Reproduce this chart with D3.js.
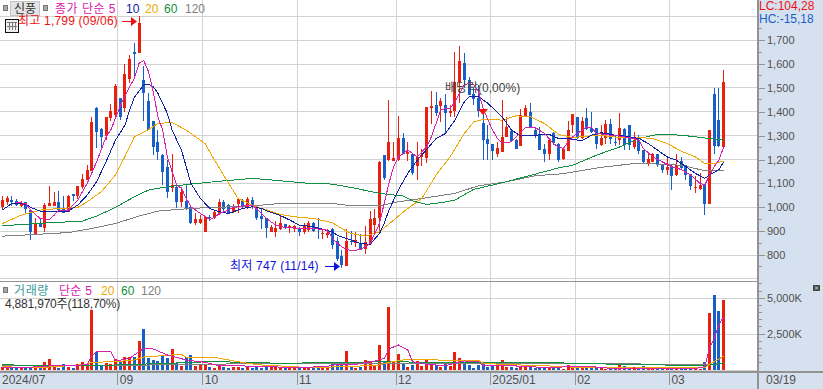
<!DOCTYPE html>
<html>
<head>
<meta charset="utf-8">
<script src="https://cdn.jsdelivr.net/npm/d3@7"></script>
<style>
  html, body { margin: 0; padding: 0; background: #fff; overflow: hidden; }
  text { font-family: "Liberation Sans", "Noto Sans CJK KR", sans-serif; font-size: 12px; }
</style>
</head>
<body>
<svg id="chart" width="823" height="389"></svg>
<script>
// candles
const open = [999,1023,1030,1028,1006,1020,988,887,932,915,1006,1006,1021,992,981,1055,1047,1083,1114,1153,
  1417,1326,1298,1373,1386,1456,1414,1538,1651,1647,1533,1443,1362,1274,1218,1167,1079,1086,1020,1026,
  999,932,936,897,960,956,974,1021,1010,981,1013,1027,999,1030,1005,963,953,897,897,907,
  929,911,909,911,897,904,936,915,887,883,907,859,795,753,859,851,848,826,848,925,
  956,1217,1197,1195,1197,1291,1225,1225,1172,1211,1207,1417,1428,1424,1428,1393,1403,1526,1603,1533,
  1474,1456,1351,1286,1267,1223,1232,1293,1319,1281,1256,1382,1400,1323,1305,1246,1223,1313,1263,1202,
  1237,1346,1376,1292,1374,1332,1330,1260,1292,1347,1274,1281,1327,1343,1251,1281,1239,1183,1190,1225,
  1183,1155,1170,1133,1195,1176,1139,1079,1076,1093,1013,1474,1365,1253];
const close = [1030,1038,1024,1010,1017,993,897,932,917,1009,1017,1021,988,978,1047,1048,1089,1118,1156,1358,
  1316,1295,1376,1403,1508,1376,1558,1620,1642,1770,1480,1323,1253,1232,1149,1065,1095,1020,1065,992,
  932,950,950,960,956,981,1021,991,978,1002,1033,999,1034,999,957,950,911,918,915,932,
  911,921,921,898,921,932,900,907,893,893,841,785,757,858,857,862,827,856,949,957,
  1189,1121,1273,1206,1290,1225,1232,1142,1211,1218,1418,1424,1393,1445,1393,1403,1526,1613,1533,1470,
  1452,1403,1281,1265,1237,1248,1293,1337,1277,1246,1386,1414,1337,1298,1239,1221,1281,1270,1197,1242,
  1323,1390,1292,1361,1327,1316,1263,1288,1347,1284,1272,1330,1260,1260,1281,1237,1190,1202,1225,1179,
  1158,1167,1130,1176,1163,1137,1088,1084,1093,1013,1323,1258,1258,1525];
const high = [1047,1047,1047,1033,1027,1024,994,953,957,1016,1089,1063,1068,1047,1051,1055,1089,1139,1177,1376,
  1420,1330,1376,1431,1516,1456,1598,1638,1686,1799,1591,1480,1362,1323,1225,1198,1225,1093,1086,1095,
  1009,974,967,960,967,988,1033,1030,1013,1013,1033,1033,1044,1044,1009,995,953,925,943,967,
  929,925,925,918,935,943,939,953,908,908,911,876,820,907,900,897,890,922,983,992,
  1193,1218,1449,1272,1382,1313,1274,1225,1274,1246,1418,1486,1481,1456,1476,1428,1652,1675,1647,1547,
  1505,1512,1400,1344,1267,1272,1449,1380,1319,1285,1410,1428,1436,1330,1335,1265,1285,1316,1270,1245,
  1362,1390,1376,1379,1414,1397,1330,1344,1365,1369,1302,1393,1330,1343,1316,1302,1239,1232,1229,1225,
  1183,1214,1183,1225,1209,1176,1139,1130,1142,1093,1323,1498,1498,1575];
const low = [988,1009,1005,1007,1002,977,862,887,917,897,1006,1006,988,978,981,1026,1033,1075,1114,1153,
  1249,1249,1281,1360,1370,1365,1400,1519,1544,1647,1362,1323,1218,1200,1093,1037,1065,995,999,988,
  929,925,929,897,942,950,967,977,974,977,977,995,992,992,946,908,872,897,876,906,
  907,893,896,879,890,898,897,869,869,873,827,775,747,753,841,834,823,806,848,890,
  890,1114,1195,1195,1195,1223,1195,1135,1114,1172,1184,1348,1383,1359,1310,1380,1380,1435,1505,1470,
  1428,1380,1197,1197,1197,1210,1232,1293,1272,1243,1256,1382,1337,1290,1239,1190,1197,1260,1190,1200,
  1237,1309,1285,1285,1322,1310,1246,1258,1263,1267,1256,1260,1239,1239,1246,1225,1183,1174,1188,1170,
  1144,1135,1074,1130,1158,1116,1074,1060,1072,967,1013,1223,1253,1250];
// volume in thousands
const volume = [186,116,163,163,116,233,186,163,163,535,768,233,140,395,233,163,395,535,395,4187,
  1279,279,465,419,768,535,930,930,930,2024,2861,814,698,628,1047,814,1465,465,279,930,
  1047,302,349,395,233,163,419,233,140,233,233,163,233,163,256,163,256,256,302,
  116,163,140,279,163,140,140,140,279,186,163,395,488,395,1326,209,140,209,698,628,
  302,1745,628,4396,535,1116,442,209,349,628,302,698,442,349,209,395,256,1256,837,442,
  349,140,372,442,209,349,326,698,209,209,116,302,186,186,116,163,140,186,163,140,
  93,349,163,163,163,256,116,140,140,93,116,116,349,279,163,140,116,279,140,140,
  116,140,93,209,163,116,116,163,93,93,558,3977,5233,4117,4882];

// moving averages: [candle index, value] read at visible points
const ma5 = [[3,1020],[5,1016],[6,988],[8,953],[10,949],[11,967],[12,988],[14,988],[16,1030],[18,1100],[20,1190],[22,1295],[23,1323],[25,1424],[27,1505],[28,1540],[29,1603],[30,1614],[31,1568],[32,1484],[33,1379],[34,1323],[35,1212],[36,1149],[37,1093],[38,1079],[39,1037],[40,1002],[42,974],[44,949],[45,957],[46,974],[47,981],[49,999],[51,1005],[53,1009],[55,974],[56,953],[58,925],[60,915],[63,912],[66,911],[69,904],[70,869],[72,834],[74,817],[76,823],[78,848],[80,932],[81,1016],[82,1100],[83,1170],[84,1211],[86,1239],[88,1211],[90,1253],[91,1295],[92,1351],[93,1407],[94,1414],[95,1414],[96,1442],[97,1477],[98,1512],[99,1519],[100,1512],[101,1484],[102,1414],[103,1365],[104,1323],[105,1288],[106,1270],[108,1274],[110,1316],[111,1334],[113,1334],[115,1309],[117,1265],[118,1253],[119,1246],[120,1274],[121,1295],[123,1323],[124,1337],[125,1334],[126,1309],[129,1302],[131,1298],[134,1288],[135,1281],[136,1246],[138,1211],[140,1190],[142,1170],[144,1158],[146,1135],[148,1100],[149,1093],[150,1134],[151,1170],[152,1197],[153,1253]];
const ma10 = [[0,988],[2,1016],[5,1013],[6,999],[8,984],[11,981],[14,984],[16,1009],[18,1051],[20,1107],[22,1191],[24,1281],[25,1312],[26,1344],[27,1407],[28,1460],[30,1512],[31,1516],[32,1505],[33,1477],[35,1393],[36,1323],[38,1239],[40,1100],[42,1037],[44,995],[46,981],[48,974],[51,995],[53,1002],[55,995],[56,985],[59,965],[61,946],[63,925],[66,918],[70,897],[71,883],[73,869],[76,848],[78,845],[80,890],[81,932],[82,988],[84,1072],[86,1142],[88,1197],[90,1242],[92,1288],[94,1309],[96,1365],[98,1442],[99,1463],[101,1463],[103,1435],[106,1379],[108,1323],[110,1298],[113,1302],[116,1305],[118,1288],[120,1288],[121,1284],[123,1279],[125,1302],[127,1312],[130,1302],[132,1298],[135,1288],[137,1267],[139,1239],[141,1211],[143,1197],[145,1170],[147,1142],[149,1121],[150,1135],[152,1158],[153,1190]];
const ma20 = [[0,932],[4,967],[8,988],[12,995],[16,999],[18,1023],[21,1065],[24,1135],[26,1212],[28,1295],[31,1325],[33,1351],[36,1355],[39,1323],[43,1267],[45,1198],[48,1100],[50,1037],[53,1009],[55,995],[59,970],[62,960],[66,953],[70,935],[72,911],[74,890],[77,879],[80,897],[83,946],[86,995],[89,1037],[92,1135],[95,1212],[98,1309],[100,1358],[102,1368],[106,1365],[109,1383],[112,1379],[115,1351],[118,1305],[121,1292],[124,1298],[127,1301],[131,1292],[135,1292],[138,1288],[141,1267],[144,1235],[147,1211],[149,1183],[151,1183],[153,1193]];
const ma60 = [[0,922],[4,928],[10,935],[17,942],[20,963],[24,999],[28,1044],[31,1072],[35,1086],[40,1097],[45,1107],[49,1114],[53,1121],[59,1111],[65,1100],[70,1097],[75,1079],[80,1058],[85,1047],[87,1027],[90,1012],[93,1019],[96,1030],[100,1075],[104,1093],[111,1128],[118,1165],[121,1176],[126,1218],[131,1253],[135,1288],[139,1305],[144,1302],[150,1288],[153,1281]];
const ma120 = [[0,879],[7,886],[14,894],[19,911],[24,932],[29,963],[33,984],[38,992],[43,998],[49,1002],[55,1009],[59,1016],[70,1016],[74,1006],[80,1006],[84,1023],[89,1037],[96,1058],[101,1090],[107,1107],[113,1132],[118,1139],[120,1144],[127,1167],[134,1183],[139,1181],[144,1176],[149,1153],[153,1153]];
const vol5 = [[0,186],[6,200],[12,330],[17,349],[18,390],[19,1000],[20,1279],[23,1279],[24,628],[27,814],[30,1512],[32,1465],[35,1047],[39,698],[43,535],[46,302],[49,302],[56,233],[63,163],[69,256],[71,395],[75,395],[79,628],[81,814],[82,1465],[84,1745],[86,1396],[87,580],[90,395],[94,302],[98,628],[101,580],[102,302],[106,326],[109,279],[116,163],[120,233],[125,233],[129,116],[134,140],[140,116],[147,93],[149,233],[150,1512],[151,2210],[152,3140],[153,3722]];
const vol20 = [[0,233],[4,186],[8,163],[18,395],[19,535],[24,581],[28,698],[30,907],[33,977],[36,1047],[38,1093],[39,884],[45,884],[48,698],[52,465],[55,349],[59,279],[63,209],[70,209],[76,279],[80,349],[82,535],[85,698],[92,744],[93,628],[96,651],[101,674],[102,465],[106,395],[110,349],[116,279],[119,233],[123,163],[130,186],[141,163],[149,163],[150,395],[152,768],[153,977]];
const vol60 = [[0,395],[2,395],[3,302],[21,302],[24,349],[35,465],[44,581],[52,535],[59,465],[82,581],[90,535],[101,535],[113,535],[131,395],[140,395],[141,302],[149,302],[153,465]];
const vol120 = [[0,302],[21,302],[42,395],[59,465],[118,465],[144,395],[149,349],[153,465]];

const priceTicks = [800,900,1000,1100,1200,1300,1400,1500,1600,1700];
const priceMinor = [750,850,950,1050,1150,1250,1350,1450,1550,1650,1750];
const priceGrid = [700,800,900,1000,1100,1200,1300,1400,1500,1600,1700,1800];
const volTicks = [2500,5000];
const volMinor = [500,1000,1500,2000,3000,3500,4000,4500,5500,6000];
const monthIdx = [25,43,63,84,104,122,142];
const monthLabels = ['09','10','11','12','2025/01','02','03'];

const red = '#e8200f', blue = '#1860c8', pink = '#d820b0', navy = '#1020a0',
      orange = '#f0a800', green = '#109040', gray = '#808080', grid = '#d2d2d2',
      axisGray = '#939393', panel = '#d6e1ef', label = '#505050';

const svg = d3.select('#chart');
const x = d3.scaleBand().domain(d3.range(open.length)).range([0, 726]);
const cx = function(i) { return x(i) + x.bandwidth() / 2; };
const y = d3.scaleLinear().domain([800, 1600]).range([255, 64]);
const yVol = d3.scaleLinear().domain([0, 5000]).range([370, 298.3]);

/*******************
 * panels and grid
 *******************/
svg.append('rect').attr('x', 759).attr('y', 0).attr('width', 64).attr('height', 389).attr('fill', panel);
svg.append('rect').attr('x', 0).attr('y', 372).attr('width', 823).attr('height', 17).attr('fill', panel);

const gridG = svg.append('g').attr('shape-rendering', 'crispEdges').attr('stroke', grid);
gridG.selectAll('.h').data(priceGrid).enter().append('line')
  .attr('x1', 0).attr('x2', 758)
  .attr('y1', function(d) { return y(d); }).attr('y2', function(d) { return y(d); });
gridG.selectAll('.hv').data(volTicks).enter().append('line')
  .attr('x1', 0).attr('x2', 758)
  .attr('y1', function(d) { return yVol(d); }).attr('y2', function(d) { return yVol(d); });
gridG.selectAll('.v').data(monthIdx).enter().append('line')
  .attr('x1', function(d) { return x(d); }).attr('x2', function(d) { return x(d); })
  .attr('y1', 0).attr('y2', 371);

svg.append('line').attr('x1', 0).attr('x2', 758).attr('y1', 281.5).attr('y2', 281.5)
  .attr('stroke', axisGray).attr('shape-rendering', 'crispEdges');
svg.append('line').attr('x1', 0).attr('x2', 823).attr('y1', 371.5).attr('y2', 371.5)
  .attr('stroke', axisGray).attr('stroke-width', 2).attr('shape-rendering', 'crispEdges');
svg.append('line').attr('x1', 0).attr('x2', 758).attr('y1', 370).attr('y2', 370)
  .attr('stroke', grid).attr('shape-rendering', 'crispEdges');

/*******************
 * candles
 *******************/
function isUp(i) { return close[i] >= open[i]; }

const candles = svg.append('g').attr('shape-rendering', 'crispEdges');
candles.selectAll('.wick').data(d3.range(open.length)).enter().append('rect')
  .attr('x', function(i) { return Math.round(cx(i) - 0.5); })
  .attr('width', 1)
  .attr('y', function(i) { return y(high[i]); })
  .attr('height', function(i) { return y(low[i]) - y(high[i]); })
  .attr('fill', function(i) { return isUp(i) ? red : blue; });
candles.selectAll('.body').data(d3.range(open.length)).enter().append('rect')
  .attr('x', function(i) { return Math.round(cx(i) - 0.5) - 1; })
  .attr('width', 3)
  .attr('y', function(i) { return y(Math.max(open[i], close[i])); })
  .attr('height', function(i) { return Math.max(1, Math.abs(y(open[i]) - y(close[i]))); })
  .attr('fill', function(i) { return isUp(i) ? red : blue; });

candles.selectAll('.vol').data(d3.range(volume.length)).enter().append('rect')
  .attr('x', function(i) { return Math.round(cx(i) - 0.5) - 1; })
  .attr('width', 3)
  .attr('y', function(i) { return yVol(volume[i]); })
  .attr('height', function(i) { return 370 - yVol(volume[i]); })
  .attr('fill', function(i) { return isUp(i) ? red : blue; });

/*******************
 * moving averages
 *******************/
function drawLine(pts, scale, color) {
  const line = d3.line()
    .x(function(d) { return cx(d[0]); })
    .y(function(d) { return scale(d[1]); });
  svg.append('path').attr('d', line(pts)).attr('fill', 'none')
    .attr('stroke', color).attr('stroke-width', 1)
    .attr('shape-rendering', 'crispEdges');
}
drawLine(ma120, y, gray);
drawLine(ma60, y, green);
drawLine(ma20, y, orange);
drawLine(ma10, y, navy);
drawLine(ma5, y, pink);
drawLine(vol120, yVol, gray);
drawLine(vol60, yVol, green);
drawLine(vol20, yVol, orange);
drawLine(vol5, yVol, pink);

/*******************
 * axes
 *******************/
function rightAxis(scale, major, minor, fmt) {
  const g = svg.append('g').attr('transform', 'translate(759,0)');
  g.call(d3.axisRight(scale).tickValues(major).tickSize(6).tickPadding(2).tickFormat(fmt));
  g.select('.domain').remove();
  g.selectAll('.tick line').attr('stroke', axisGray).attr('shape-rendering', 'crispEdges');
  g.selectAll('.tick text').attr('fill', label)
    .style('font-family', '"Liberation Sans"').style('font-size', '11px');
  g.selectAll('.minor').data(minor).enter().append('line')
    .attr('x1', 0).attr('x2', 3)
    .attr('y1', function(d) { return scale(d); }).attr('y2', function(d) { return scale(d); })
    .attr('stroke', axisGray).attr('shape-rendering', 'crispEdges');
}
rightAxis(y, priceTicks, priceMinor, d3.format(','));
rightAxis(yVol, volTicks, volMinor, function(d) { return d3.format(',')(d) + 'K'; });

svg.append('line').attr('x1', 758).attr('x2', 758).attr('y1', 0).attr('y2', 389)
  .attr('stroke', axisGray).attr('stroke-width', 2).attr('shape-rendering', 'crispEdges');

svg.selectAll('.mtick').data(monthIdx).enter().append('line')
  .attr('x1', function(d) { return x(d); }).attr('x2', function(d) { return x(d); })
  .attr('y1', 372).attr('y2', 385)
  .attr('stroke', axisGray).attr('shape-rendering', 'crispEdges');

function txt(px, py, s, color, spacing) {
  return svg.append('text').attr('x', px).attr('y', py).attr('fill', color)
    .style('letter-spacing', (spacing || 0) + 'px').text(s);
}
svg.selectAll('.mlabel').data(monthIdx).enter().append('text')
  .attr('x', function(d) { return x(d) + 2; })
  .attr('y', 384).attr('fill', label)
  .text(function(d, i) { return monthLabels[i]; });
txt(2, 384, '2024/07', label);
txt(766, 384, '03/19', label);

/*******************
 * header and notes
 *******************/
function square(px, py) {
  svg.append('rect').attr('x', px).attr('y', py).attr('width', 4).attr('height', 5)
    .attr('fill', '#a8a8a8').attr('stroke', '#777').attr('shape-rendering', 'crispEdges');
}
square(3, 5);
svg.append('rect').attr('x', 10.5).attr('y', 1.5).attr('width', 29).attr('height', 14)
  .attr('fill', '#e4e4e4').attr('stroke', '#c4c4c4');
txt(14, 13, '신풍', '#333');
square(43, 5);
txt(55, 13, '종가 단순 5', pink, 0.5);
txt(126, 13, '10', navy);
txt(145, 13, '20', orange);
txt(164, 13, '60', green);
txt(185, 13, '120', gray);

// small table icon
svg.append('rect').attr('x', 5.5).attr('y', 19.5).attr('width', 13).attr('height', 13)
  .attr('fill', '#eee').attr('stroke', '#111');
const icon = svg.append('g').attr('stroke', '#777').attr('shape-rendering', 'crispEdges');
[9.5, 12.5, 15.5].forEach(function(p) {
  icon.append('line').attr('x1', p).attr('x2', p).attr('y1', 22).attr('y2', 30);
});
[22.5, 26.5].forEach(function(p) {
  icon.append('line').attr('x1', 7).attr('x2', 17).attr('y1', p).attr('y2', p);
});

txt(18, 25, '최고 1,799 (09/06)', '#f01010', 0.2);
txt(230, 270, '최저 747 (11/14)', '#1010e0', 0.2);
txt(445, 92, '배당락(0,00%)', '#444');

// notes: arrows and the ex-dividend mark
svg.append('line').attr('x1', 122).attr('x2', 131).attr('y1', 21.5).attr('y2', 21.5).attr('stroke', '#f01010');
svg.append('path').attr('d', 'M131,17L137,21.5L131,26Z').attr('fill', '#f01010');
svg.append('line').attr('x1', 325).attr('x2', 335).attr('y1', 266.5).attr('y2', 266.5).attr('stroke', '#1010e0');
svg.append('path').attr('d', 'M334,262L340,266.5L334,271Z').attr('fill', '#1010e0');
svg.append('path').attr('d', 'M478,109L488,109L483,115Z').attr('fill', '#f01010');

txt(759, 10, 'LC:104,28', '#f01010');
txt(759, 23, 'HC:-15,18', '#1860c8');

// volume header
square(3, 287);
txt(14, 295, '거래량', '#3a9a98', 0.6);
txt(59, 295, '단순 5', pink, 0.3);
txt(101, 295, '20', orange);
txt(121, 295, '60', green);
txt(141, 295, '120', gray);
txt(5, 308, '4,881,970주(118,70%)', '#333', -0.2);

// expand button
svg.append('rect').attr('x', 813).attr('y', 285).attr('width', 7).attr('height', 6).attr('fill', '#444');
svg.append('path').attr('d', 'M815,286.5L818,289.5M818,286.5L815,289.5').attr('stroke', '#fff').attr('stroke-width', 0.8);
</script>
</body>
</html>
